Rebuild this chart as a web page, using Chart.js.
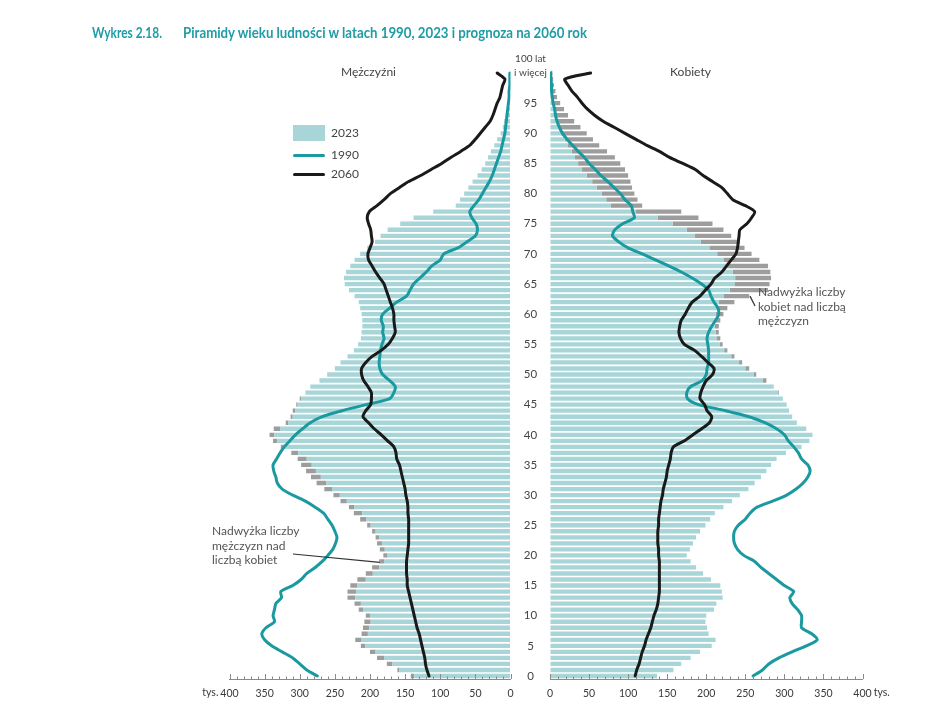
<!DOCTYPE html>
<html><head><meta charset="utf-8">
<script src="https://cdn.jsdelivr.net/npm/chart.js@4.4.1/dist/chart.umd.min.js"></script>
<style>
html,body{margin:0;padding:0;background:#fff;}
body{width:948px;height:722px;position:relative;overflow:hidden;font-family:Lato,"Open Sans",sans-serif;color:#3a3a3a;}
canvas{position:absolute;top:0;}
.t{position:absolute;white-space:nowrap;line-height:1;transform-origin:0 50%;}
.title{color:#1f9ca6;font-weight:bold;font-size:14.5px;}
.lbl{font-size:12px;color:#444;}
.ann{font-size:12px;color:#555;line-height:14.5px;}
</style></head><body>
<canvas id="cm" width="400" height="722" style="left:150px"></canvas>
<canvas id="cf" width="370" height="722" style="left:530px"></canvas>

<div class="t title" style="left:92px;top:26px" data-w="70">Wykres 2.18.</div>
<div class="t title" style="left:183px;top:26px" data-w="404">Piramidy wieku ludności w latach 1990, 2023 i prognoza na 2060 rok</div>

<div class="t lbl" style="left:341px;top:66px" data-w="55">Mężczyźni</div>
<div class="t lbl" style="left:670px;top:66px" data-w="41">Kobiety</div>

<div style="position:absolute;left:293px;top:125px;width:32px;height:16px;background:#a8d6d8"></div>
<div style="position:absolute;left:293px;top:153.5px;width:32px;height:3px;background:#1a9aa0;border-radius:2px"></div>
<div style="position:absolute;left:293px;top:172.5px;width:32px;height:3px;background:#1a1a1a;border-radius:2px"></div>
<div class="t lbl" style="left:331px;top:126.5px;font-size:12px">2023</div>
<div class="t lbl" style="left:331px;top:148.5px;font-size:12px">1990</div>
<div class="t lbl" style="left:331px;top:167.5px;font-size:12px">2060</div>

<div class="t ann" style="left:758px;top:285px">Nadwyżka liczby<br>kobiet nad liczbą<br>mężczyzn</div>
<div class="t ann" style="left:212px;top:524px">Nadwyżka liczby<br>mężczyzn nad<br>liczbą kobiet</div>

<script>
const ages = ['0','1','2','3','4','5','6','7','8','9','10','11','12','13','14','15','16','17','18','19','20',
'21','22','23','24','25','26','27','28','29','30','31','32','33','34','35','36','37','38','39','40',
'41','42','43','44','45','46','47','48','49','50','51','52','53','54','55','56','57','58','59','60',
'61','62','63','64','65','66','67','68','69','70','71','72','73','74','75','76','77','78','79','80',
'81','82','83','84','85','86','87','88','89','90','91','92','93','94','95','96','97','98','99','100'];

const ageTickLabels = ['0','5','10','15','20','25','30','35','40','45','50','55','60','65','70','75','80','85','90','95'];
const topAgeLabel = ['100 lat','i więcej'];

// thousands, ages 0..100
const males2023 = [142,161,176,190,200,213,221,212,210,208,206,216,222,232,232,228,218,206,197,187,181,
186,190,192,197,204,214,223,230,242,252,265,276,284,291,298,303,312,327,338,343,
337,320,313,310,305,300,292,285,272,261,250,242,232,223,217,213,212,211,211,212,
214,216,222,230,236,237,234,228,222,214,204,193,185,175,157,138,110,78,72,66,
60,54,47,41,36,32,28,23,19,14,11,9,7,5,4,3,2,2,1,1];

const females2023 = [137,158,168,180,192,207,212,203,201,199,200,210,213,221,220,218,206,196,187,180,175,
179,183,187,192,199,205,211,222,233,243,254,262,270,277,283,290,302,322,332,336,
328,316,310,306,303,298,293,286,277,264,255,246,236,227,221,218,216,216,218,222,
227,236,255,279,281,283,282,279,268,258,249,243,232,222,208,190,168,118,112,108,
105,103,100,96,90,83,73,63,55,47,39,31,23,18,13,9,7,5,4,3];

const males1990 = [275,290,300,310,325,340,350,354,348,336,338,336,334,326,327,310,298,290,278,268,260,
253,249,247,250,254,260,266,278,292,310,325,332,334,337,338,333,328,322,314,306,
296,285,268,240,205,172,166,164,172,182,186,187,186,185,183,180,182,181,184,182,
172,162,148,143,138,129,120,112,100,95,75,62,50,47,49,55,58,52,45,40,
35,30,26,23,20,17,14,12,10,8,7,6,5,4,3,2,2,1,1,1];

const females1990 = [260,272,280,293,310,328,342,335,322,322,322,317,310,307,312,300,290,280,270,262,248,
240,236,235,236,241,250,256,265,285,303,315,324,330,333,330,322,318,312,305,300,
290,275,255,225,190,176,175,180,195,200,201,203,203,203,202,201,203,207,212,216,
215,210,206,203,194,182,168,152,135,118,100,88,80,83,93,108,106,104,96,90,
82,74,65,58,50,44,36,29,22,16,12,9,7,6,4,3,2,2,1,1];

const males2060 = [116,119,121,122,124,126,128,130,133,135,137,139,141,143,145,147,147,148,148,148,147,
146,145,145,145,145,145,146,146,147,149,150,152,154,156,158,162,163,166,175,184,
194,202,210,206,199,198,198,203,209,212,212,206,197,184,174,168,164,165,166,166,
168,171,174,177,180,186,192,197,202,203,200,197,198,199,202,204,201,190,180,171,
158,145,128,113,98,85,71,58,50,43,36,29,25,22,19,15,13,11,8,19];

const females2060 = [109,111,114,116,118,121,123,126,129,131,133,136,138,139,140,140,140,140,140,140,139,
139,138,138,138,139,139,140,141,142,144,145,147,149,150,152,154,155,158,172,183,
194,204,207,201,198,192,193,196,200,208,210,202,194,185,172,167,165,166,168,173,
177,182,192,199,206,211,220,226,232,238,240,241,242,243,252,258,262,250,234,227,
220,208,196,186,170,153,140,124,110,96,82,68,57,48,41,35,28,23,19,52];

const xTickStep = 10;
const xMajorStep = 50;
const xMax = 400;

const TEAL_BAR = '#a8d6d8', GREY_BAR = '#9d9d9d', C1990 = '#1a9aa0', C2060 = '#1a1a1a';
const TXT = '#3a3a3a';

function teal(a, b) { return a.map((v, i) => Math.min(v, b[i])); }
function surplus(a, b) { return a.map((v, i) => Math.max(0, v - b[i])); }

const extraPlugin = {
  id: 'extra',
  afterDraw(chart, args, opts) {
    const ctx = chart.ctx, xs = chart.scales.x, ys = chart.scales.y, ca = chart.chartArea;
    ctx.save();
    ctx.strokeStyle = '#8a8a8a'; ctx.lineWidth = 1;
    xs.ticks.forEach(t => {
      const x = Math.round(xs.getPixelForValue(t.value)) + 0.5;
      const len = (t.value % xMajorStep === 0) ? 5 : 2.5;
      ctx.beginPath(); ctx.moveTo(x, ca.bottom); ctx.lineTo(x, ca.bottom - len); ctx.stroke();
    });
    ctx.font = '10.5px Lato'; ctx.fillStyle = TXT; ctx.textBaseline = 'middle';
    const x400 = xs.getPixelForValue(xMax);
    const w = ctx.measureText(String(xMax)).width;
    const ty = ca.bottom + 14;
    if (opts.side === 'left') { ctx.textAlign = 'right'; ctx.fillText('tys.', x400 - w / 2 - 2, ty); }
    else { ctx.textAlign = 'left'; ctx.fillText('tys.', x400 + w / 2 + 2, ty); }
    if (opts.side === 'left') {
      const cx = ca.right + 20;
      ctx.textAlign = 'center'; ctx.textBaseline = 'middle';
      ctx.font = '11.5px Lato'; ctx.fillStyle = '#444';
      ageTickLabels.forEach(l => {
        ctx.fillText(l, cx, ys.getPixelForValue(ages.indexOf(l)));
      });
      ctx.font = '10px Lato';
      const y100 = ys.getPixelForValue(ages.indexOf('100'));
      ctx.fillText(topAgeLabel[1], cx, y100);
      ctx.fillText(topAgeLabel[0], cx, y100 - 14);
      ctx.strokeStyle = '#333'; ctx.lineWidth = 1.2;
      ctx.beginPath();
      ctx.moveTo(293 - 150, 554);
      ctx.lineTo(xs.getPixelForValue(186), ys.getPixelForValue(ages.indexOf('19')) + 1);
      ctx.stroke();
    } else {
      ctx.strokeStyle = '#333'; ctx.lineWidth = 1.2;
      ctx.beginPath();
      ctx.moveTo(xs.getPixelForValue(256), ys.getPixelForValue(ages.indexOf('63')));
      ctx.lineTo(755 - 530, 306);
      ctx.stroke();
    }
    ctx.restore();
  }
};

function makeChart(id, side, pad, barsMain, barsGrey, l1990, l2060) {
  return new Chart(document.getElementById(id), {
    type: 'bar',
    data: {
      labels: ages,
      datasets: [
        { type: 'line', label: '2060', data: l2060, borderColor: C2060, borderWidth: 3, pointRadius: 0,
          tension: 0.25, stack: 's2060', order: 0, borderJoinStyle: 'round', borderCapStyle: 'round', fill: false },
        { type: 'line', label: '1990', data: l1990, borderColor: C1990, borderWidth: 3, pointRadius: 0,
          tension: 0.25, stack: 's1990', order: 1, borderJoinStyle: 'round', borderCapStyle: 'round', fill: false },
        { type: 'bar', label: '2023', data: barsMain, backgroundColor: TEAL_BAR, stack: 'bars', order: 2,
          barPercentage: 0.72, categoryPercentage: 1, borderWidth: 0 },
        { type: 'bar', label: 'nadwyżka', data: barsGrey, backgroundColor: GREY_BAR, stack: 'bars', order: 3,
          barPercentage: 0.72, categoryPercentage: 1, borderWidth: 0 }
      ]
    },
    options: {
      indexAxis: 'y',
      responsive: false,
      animation: false,
      events: [],
      layout: { padding: pad },
      plugins: { legend: { display: false }, tooltip: { enabled: false }, extra: { side } },
      scales: {
        y: { type: 'category', reverse: true, stacked: true, display: false, offset: true },
        x: {
          type: 'linear', min: 0, max: xMax, reverse: side === 'left', stacked: true,
          grid: { display: true, drawOnChartArea: false, drawTicks: false },
          border: { display: true, color: '#8a8a8a', width: 1 },
          ticks: {
            stepSize: xTickStep, autoSkip: false, maxRotation: 0, minRotation: 0, padding: 8,
            color: TXT, font: { family: 'Lato', size: 10.5 },
            callback: v => (v % xMajorStep === 0 ? String(v) : '')
          },
          afterFit: s => { s.height = 30; }
        }
      }
    },
    plugins: [extraPlugin]
  });
}

makeChart('cm', 'left', { left: 79.5, right: 39.5, top: 70, bottom: 13 },
  teal(males2023, females2023), surplus(males2023, females2023), males1990, males2060);
makeChart('cf', 'right', { left: 20, right: 37.5, top: 70, bottom: 13 },
  teal(females2023, males2023), surplus(females2023, males2023), females1990, females2060);

document.querySelectorAll('[data-w]').forEach(el => {
  const tw = parseFloat(el.dataset.w);
  const w = el.getBoundingClientRect().width;
  if (w > 0) el.style.transform = 'scaleX(' + (tw / w) + ')';
});
</script>
</body></html>
